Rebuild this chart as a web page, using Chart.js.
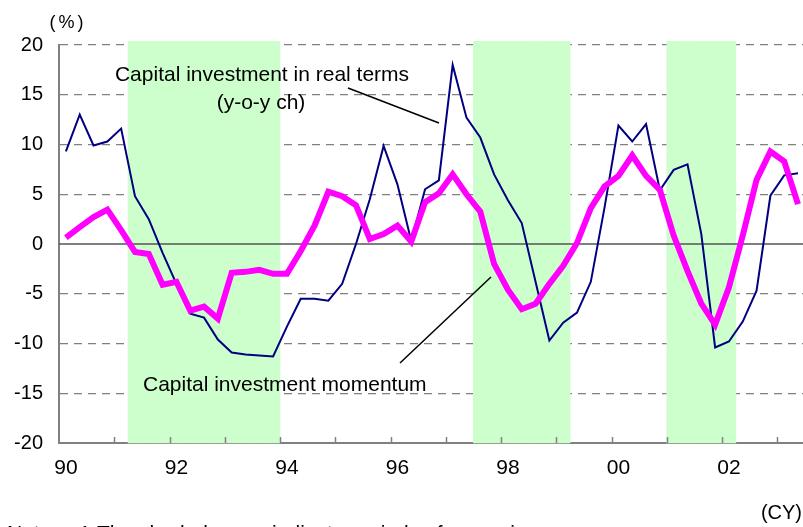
<!DOCTYPE html>
<html>
<head>
<meta charset="utf-8">
<script src="https://cdn.jsdelivr.net/npm/chart.js@4.4.1/dist/chart.umd.min.js"></script>
<style>
  html, body { margin: 0; padding: 0; background: #fff; overflow: hidden; }
  /* the plot runs a few pixels past the right edge, as in the original */
  #wrap { width: 811px; height: 527px; position: relative; }
</style>
</head>
<body>
<div id="wrap"><canvas id="capexChart"></canvas></div>
<script>
// Quarterly data, 1990 Q1 - 2003 Q2
const years = [1990, 1991, 1992, 1993, 1994, 1995, 1996, 1997, 1998, 1999, 2000, 2001, 2002, 2003];
const lastQuarter = "2003Q2";
const tickLabels = ["90", "92", "94", "96", "98", "00", "02"];

// Capital investment in real terms (y-o-y % ch)
const realCapex = [
  9.3, 13.0, 9.9, 10.3, 11.6, 4.8, 2.5, -0.9,
  -4.0, -7.0, -7.4, -9.6, -10.9, -11.1, -11.2, -11.3,
  -8.3, -5.5, -5.5, -5.7, -4.0, 0.0, 4.5, 9.85,
  6.0, 0.3, 5.5, 6.4, 18.0, 12.7, 10.7, 7.0,
  4.4, 2.1, -3.8, -9.7, -7.9, -6.9, -3.8, 3.7,
  11.9, 10.3, 12.05, 5.4, 7.45, 8.0, 1.0, -10.4,
  -9.8, -7.8, -4.7, 4.85, 6.9, 7.1
];

// Capital investment momentum
const momentum = [
  0.65, 1.7, 2.7, 3.45, 1.4, -0.8, -1.0, -4.1,
  -3.8, -6.7, -6.3, -7.5, -2.9, -2.8, -2.6, -3.0,
  -3.0, -0.7, 1.85, 5.25, 4.8, 3.9, 0.5, 1.0,
  1.85, 0.25, 4.2, 5.1, 7.0, 5.0, 3.25, -2.0,
  -4.6, -6.55, -6.0, -4.0, -2.2, 0.1, 3.6, 5.8,
  6.85, 8.9, 6.85, 5.45, 0.85, -2.7, -6.0, -8.1,
  -4.35, 0.85, 6.45, 9.3, 8.3, 4.0
];

// shaded recession periods (first and last quarter)
const recessions = [["1991Q2", "1993Q4"], ["1997Q3", "1999Q1"], ["2001Q1", "2002Q1"]];

// --- build categories ---
const quarters = [];
years.forEach(y => {
  for (let q = 1; q <= 4; q++) {
    if (quarters.length && quarters[quarters.length - 1] === lastQuarter) return;
    quarters.push(y + "Q" + q);
  }
});

const Y_MIN = -20, Y_MAX = 20;
const shadeTop = 20.37; // shading sticks out a little above the top gridline

function inRecession(q) {
  return recessions.some(([a, b]) => q >= a && q <= b);
}
const shade = quarters.map(q => (inRecession(q) ? [Y_MIN, shadeTop] : null));

const FONT = "'Liberation Sans', Arial, sans-serif";

// zero line, tick marks, annotations
const decor = {
  id: "decor",
  afterDatasetDraw(chart, args) {
    if (args.index !== 2) return; // right after the shading
    const { ctx, chartArea } = chart;
    const y0 = chart.scales.y.getPixelForValue(0);
    ctx.save();
    ctx.strokeStyle = "#555555";
    ctx.lineWidth = 1.5;
    ctx.beginPath();
    ctx.moveTo(chartArea.left, y0);
    ctx.lineTo(chartArea.right, y0);
    ctx.stroke();
    ctx.restore();
  },
  afterDraw(chart) {
    const { ctx, chartArea } = chart;
    const xs = chart.scales.x;
    const half = (xs.getPixelForValue(1) - xs.getPixelForValue(0)) / 2;

    ctx.save();
    // year tick marks (inside the plot)
    ctx.strokeStyle = "#808080";
    ctx.lineWidth = 1.5;
    for (let i = 4; i < quarters.length; i += 4) {
      const x = Math.round(xs.getPixelForValue(i) - half) + 0.5;
      ctx.beginPath();
      ctx.moveTo(x, chartArea.bottom);
      ctx.lineTo(x, chartArea.bottom - 6);
      ctx.stroke();
    }

    // leader lines
    ctx.strokeStyle = "#000";
    ctx.lineWidth = 1.5;
    ctx.beginPath();
    ctx.moveTo(348, 88);
    ctx.lineTo(439, 123);
    ctx.moveTo(400, 363);
    ctx.lineTo(491, 277);
    ctx.stroke();

    // texts
    ctx.fillStyle = "#000";
    ctx.textBaseline = "alphabetic";
    ctx.font = "21px " + FONT;
    ctx.textAlign = "center";
    ctx.fillText("Capital investment in real terms", 262, 81);
    ctx.fillText("(y-o-y ch)", 261, 109);
    ctx.textAlign = "left";
    ctx.fillText("Capital investment momentum", 143, 391);

    ctx.font = "20px " + FONT;
    ctx.textAlign = "right";
    ctx.fillText("(CY)", 802, 519);

    ctx.textAlign = "center";
    ctx.font = "18px " + FONT;
    ctx.letterSpacing = "3px";
    ctx.fillText("(%)", 68, 28);
    ctx.letterSpacing = "0px";

    ctx.textAlign = "left";
    ctx.font = "21px " + FONT;
    ctx.fillText("Notes:", 7, 540);
    ctx.fillText("1.", 79, 540);
    ctx.fillText("The shaded areas indicate periods of recession.", 97, 540);
    ctx.restore();
  }
};

new Chart(document.getElementById("capexChart"), {
  type: "bar",
  data: {
    labels: quarters,
    datasets: [
      {
        type: "line",
        label: "Capital investment momentum",
        data: momentum,
        borderColor: "#FF00FF",
        borderWidth: 6,
        pointRadius: 0,
        tension: 0,
        order: 0
      },
      {
        type: "line",
        label: "Capital investment in real terms (y-o-y ch)",
        data: realCapex,
        borderColor: "#000080",
        borderWidth: 2,
        pointRadius: 0,
        tension: 0,
        order: 1
      },
      {
        type: "bar",
        label: "Recession",
        data: shade,
        backgroundColor: "#CCFFCC",
        borderWidth: 0,
        barPercentage: 1,
        categoryPercentage: 1,
        clip: false,
        order: 2
      }
    ]
  },
  options: {
    responsive: true,
    maintainAspectRatio: false,
    animation: false,
    layout: { padding: { top: 45, right: 0, bottom: 0, left: 0 } },
    plugins: {
      legend: { display: false },
      tooltip: { enabled: false },
      title: { display: false }
    },
    scales: {
      x: {
        type: "category",
        offset: true,
        grid: { display: true, drawOnChartArea: false, drawTicks: false },
        border: { display: true, color: "#808080", width: 2 },
        ticks: {
          autoSkip: false,
          maxRotation: 0,
          padding: 13,
          color: "#000",
          font: { family: FONT, size: 21 },
          callback: (v, i) => (i % 8 === 0 ? tickLabels[i / 8] : "")
        },
        afterFit: s => { s.height = 84; }
      },
      y: {
        min: Y_MIN,
        max: Y_MAX,
        ticks: {
          stepSize: 5,
          padding: 16,
          color: "#000",
          font: { family: FONT, size: 20 }
        },
        grid: {
          drawTicks: false,
          lineWidth: 1.3,
          color: c => (c.tick && (c.tick.value === 0 || c.tick.value === Y_MIN) ? "rgba(0,0,0,0)" : "#808080")
        },
        border: { display: true, color: "#808080", width: 2, dash: [8, 6] },
        afterFit: s => { s.width = 59; }
      }
    }
  },
  plugins: [decor]
});
</script>
</body>
</html>
